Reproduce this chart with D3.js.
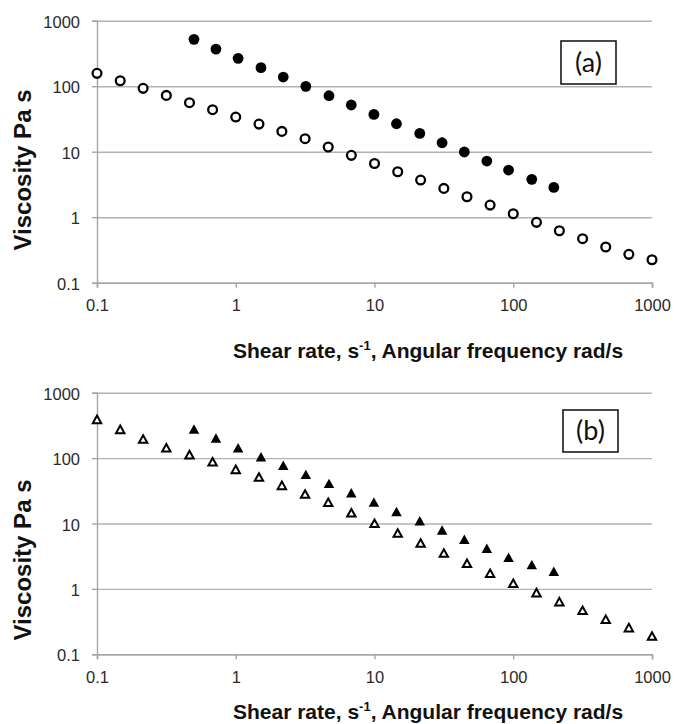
<!DOCTYPE html>
<html>
<head>
<meta charset="utf-8">
<script src="https://cdn.jsdelivr.net/npm/d3@7"></script>
<style>
  body { margin: 0; background: #fff; }
  text { font-family: "Liberation Sans", Arial, sans-serif; }
</style>
</head>
<body>
<script>
// shear / frequency points (x)
var xSteady = [0.1, 0.147, 0.215, 0.316, 0.464, 0.681, 1, 1.47, 2.15, 3.16, 4.64, 6.81, 10,
               14.7, 21.5, 31.6, 46.4, 68.1, 100, 147, 215, 316, 464, 681, 1000];
var xOsc = [0.5, 0.72, 1.04, 1.52, 2.2, 3.2, 4.7, 6.8, 9.9, 14.4, 21.2, 30.7, 44.4, 64.5, 92.5, 136, 196];

// panel (a): open circles = steady shear, filled circles = complex viscosity
var aSteady = [157, 121, 92.7, 72.4, 56, 43.8, 33.8, 26.4, 20.4, 15.8, 11.8, 8.8, 6.6,
               4.95, 3.69, 2.75, 2.05, 1.53, 1.13, 0.834, 0.622, 0.47, 0.351, 0.271, 0.224];
var aOsc = [519, 369, 266, 192, 138, 99.4, 71.6, 51.6, 37.1, 26.7, 19.0, 13.7, 9.9, 7.2, 5.25, 3.78, 2.85];

// panel (b): open triangles = steady shear, filled triangles = complex viscosity
var bSteady = [391, 275, 196, 144, 113, 88, 67.3, 51.4, 38.3, 28.2, 21.1, 14.6, 10.1,
               7.16, 5.03, 3.54, 2.46, 1.73, 1.22, 0.877, 0.638, 0.471, 0.343, 0.256, 0.19];
var bOsc = [278, 203, 144, 105, 77.5, 56.4, 41.1, 29.6, 21.3, 15.3, 11.0, 7.96, 5.73, 4.17, 3.04, 2.35, 1.86];

var tickVals = [0.1, 1, 10, 100, 1000];
var tickLabels = ["0.1", "1", "10", "100", "1000"];
var xTitle = "Shear rate, s";
var yTitle = "Viscosity Pa s";

var width = 676, height = 724;
var left = 97, right = 652;

var svg = d3.select("body").append("svg")
    .attr("width", width)
    .attr("height", height);

var x = d3.scaleLog().domain([0.1, 1000]).range([left, right]);

function zip(xs, ys) {
    return xs.map(function (d, i) { return {x: d, y: ys[i]}; });
}

function tri(s) {
    var h = s * 0.9;
    return "M0," + (-h / 2) + "L" + (s / 2) + "," + (h / 2) + "L" + (-s / 2) + "," + (h / 2) + "Z";
}

function panel(p) {
    var top = p.top, bottom = p.bottom;
    var y = d3.scaleLog().domain([0.1, 1000]).range([bottom, top]);
    var g = svg.append("g");

    // gridlines
    g.append("g")
        .attr("transform", "translate(" + left + ",0)")
        .call(d3.axisLeft(y).tickValues(tickVals).tickSize(-(right - left)).tickFormat(""))
        .call(function (s) {
            s.select(".domain").remove();
            s.selectAll("line").attr("stroke", "#b3b3b3").attr("stroke-width", 1.4);
        });

    // y axis
    g.append("g")
        .attr("transform", "translate(" + left + ",0)")
        .call(d3.axisLeft(y).tickValues(tickVals).tickSize(5).tickPadding(12)
            .tickFormat(function (d, i) { return tickLabels[i]; }))
        .call(function (s) {
            s.select(".domain").attr("stroke", "#a6a6a6").attr("stroke-width", 1.4);
            s.selectAll("line").attr("stroke", "#a6a6a6").attr("stroke-width", 1.4);
            s.selectAll("text").attr("fill", "#2a2a2a").style("font-size", "16.5px")
                .attr("font-family", "Liberation Sans, Arial").attr("dy", "0.4em");
        });

    // x axis
    g.append("g")
        .attr("transform", "translate(0," + bottom + ")")
        .call(d3.axisBottom(x).tickValues(tickVals).tickSize(5).tickPadding(12)
            .tickFormat(function (d, i) { return tickLabels[i]; }))
        .call(function (s) {
            s.select(".domain").attr("stroke", "#a6a6a6").attr("stroke-width", 1.6);
            s.selectAll("line").attr("stroke", "#a6a6a6").attr("stroke-width", 1.4);
            s.selectAll("text").attr("fill", "#2a2a2a").style("font-size", "16.5px")
                .attr("font-family", "Liberation Sans, Arial");
        });

    // y title
    g.append("text")
        .attr("transform", "translate(31," + p.yTitleMid + ") rotate(-90)")
        .attr("text-anchor", "middle")
        .style("font-size", "24px")
        .style("font-weight", "bold")
        .attr("fill", "#111")
        .text(yTitle);

    // x title with superscript
    var t = g.append("text")
        .attr("x", 233)
        .attr("y", p.xTitleY)
        .style("font-size", "21px")
        .style("font-weight", "bold")
        .attr("fill", "#111");
    t.append("tspan").text(xTitle);
    t.append("tspan").attr("dy", -8).style("font-size", "13px").text("-1");
    t.append("tspan").attr("dy", 8).text(", Angular frequency rad/s");

    // label box
    var b = p.box;
    g.append("rect")
        .attr("x", b[0]).attr("y", b[1]).attr("width", b[2]).attr("height", b[3])
        .attr("fill", "#fff").attr("stroke", "#1a1a1a").attr("stroke-width", 1.6);
    g.append("text")
        .attr("x", b[0] + b[2] / 2)
        .attr("y", b[1] + b[3] / 2 + 9)
        .attr("text-anchor", "middle")
        .style("font-family", "Lato, 'Open Sans', sans-serif")
        .style("font-size", "27px")
        .attr("fill", "#111")
        .text(p.label);

    // markers
    if (p.shape == "circle") {
        g.selectAll(".open").data(zip(xSteady, p.open)).enter().append("circle")
            .attr("cx", function (d) { return x(d.x); })
            .attr("cy", function (d) { return y(d.y); })
            .attr("r", 4.4)
            .attr("fill", "#fff").attr("stroke", "#000").attr("stroke-width", 2.3);
        g.selectAll(".filled").data(zip(xOsc, p.filled)).enter().append("circle")
            .attr("cx", function (d) { return x(d.x); })
            .attr("cy", function (d) { return y(d.y); })
            .attr("r", 5.4)
            .attr("fill", "#000");
    } else {
        g.selectAll(".open").data(zip(xSteady, p.open)).enter().append("path")
            .attr("transform", function (d) { return "translate(" + x(d.x) + "," + y(d.y) + ")"; })
            .attr("d", tri(8.4))
            .attr("fill", "#fff").attr("stroke", "#000").attr("stroke-width", 2)
            .attr("stroke-linejoin", "miter");
        g.selectAll(".filled").data(zip(xOsc, p.filled)).enter().append("path")
            .attr("transform", function (d) { return "translate(" + x(d.x) + "," + y(d.y) + ")"; })
            .attr("d", tri(10.5))
            .attr("fill", "#000");
    }
}

panel({top: 20.7, bottom: 282.7, label: "(a)", open: aSteady, filled: aOsc, shape: "circle",
       box: [561, 41, 55, 43], xTitleY: 358, yTitleMid: 170});
panel({top: 392.7, bottom: 654.3, label: "(b)", open: bSteady, filled: bOsc, shape: "triangle",
       box: [563, 410, 55, 42], xTitleY: 719, yTitleMid: 560});
</script>
</body>
</html>
